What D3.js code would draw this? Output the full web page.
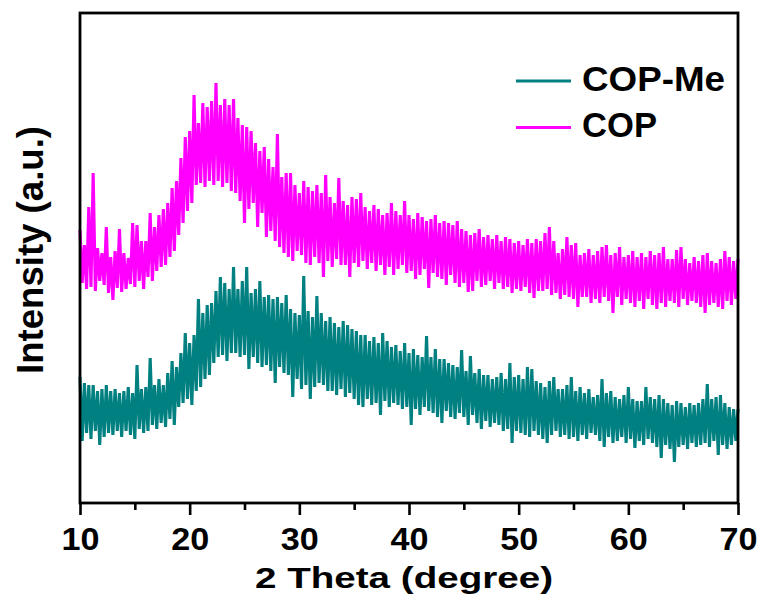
<!DOCTYPE html>
<html>
<head>
<meta charset="utf-8">
<script src="https://cdn.jsdelivr.net/npm/d3@7"></script>
<style>
  body { margin: 0; background: #fff; }
  svg { display: block; }
  text { font-family: Arial, "Liberation Sans", sans-serif; font-weight: bold; fill: #000; }
</style>
</head>
<body>
<svg id="chart" width="761" height="603"></svg>
<script>
// XRD scan grid: 2θ from 10° to 70° in 0.2° steps
const angleStart = 10;
const angleStep = 0.2;

// COP-Me intensity (a.u.), one row per degree
const copMe = [
  126, 62, 120, 70, 118,
  64, 118, 72, 112, 58,
  114, 66, 118, 70, 112,
  68, 114, 72, 110, 66,
  112, 72, 116, 68, 110,
  64, 138, 74, 114, 70,
  116, 72, 145, 78, 118,
  74, 124, 80, 118, 76,
  130, 84, 142, 78, 136,
  96, 150, 100, 170, 104,
  160, 98, 168, 112, 204,
  116, 190, 124, 198, 128,
  200, 140, 212, 146, 226,
  148, 220, 142, 214, 150,
  236, 150, 214, 146, 222,
  148, 236, 134, 210, 146,
  214, 140, 222, 136, 206,
  138, 208, 132, 204, 120,
  206, 136, 200, 130, 208,
  128, 194, 106, 190, 124,
  188, 114, 227, 118, 192,
  104, 186, 116, 207, 120,
  190, 118, 182, 112, 186,
  112, 180, 108, 176, 114,
  182, 106, 178, 110, 174,
  104, 172, 98, 168, 96,
  168, 104, 162, 98, 166,
  100, 160, 88, 170, 102,
  162, 96, 156, 100, 158,
  98, 152, 94, 160, 96,
  150, 78, 154, 94, 148,
  88, 146, 96, 167, 92,
  146, 90, 154, 86, 144,
  80, 144, 92, 140, 86,
  138, 84, 136, 90, 153,
  86, 132, 78, 147, 88,
  130, 80, 134, 74, 128,
  82, 128, 76, 124, 80,
  126, 78, 130, 72, 124,
  74, 140, 60, 126, 72,
  128, 70, 124, 68, 136,
  66, 134, 72, 122, 68,
  120, 64, 116, 60, 122,
  68, 126, 72, 114, 66,
  114, 68, 118, 64, 126,
  66, 112, 62, 116, 68,
  110, 64, 114, 70, 106,
  68, 108, 62, 124, 56,
  110, 66, 112, 60, 106,
  62, 104, 66, 108, 60,
  116, 64, 104, 55, 102,
  62, 102, 58, 116, 64,
  106, 60, 104, 56, 108,
  45, 104, 58, 100, 54,
  98, 41, 102, 56, 100,
  58, 96, 54, 100, 60,
  98, 56, 100, 58, 104,
  60, 119, 56, 104, 62,
  106, 48, 108, 58, 100,
  54, 96, 58, 94, 62,
  94
];

// COP intensity (a.u.), one row per degree
const cop = [
  273, 220, 258, 214, 296,
  216, 330, 212, 255, 222,
  250, 218, 276, 210, 246,
  203, 252, 215, 274, 211,
  250, 214, 245, 219, 280,
  216, 278, 222, 262, 214,
  262, 226, 290, 222, 276,
  232, 288, 236, 294, 238,
  300, 246, 315, 252, 322,
  268, 345, 280, 366, 292,
  372, 300, 408, 318, 380,
  320, 400, 316, 396, 322,
  402, 318, 420, 322, 398,
  316, 404, 320, 398, 312,
  404, 310, 385, 302, 378,
  280, 376, 294, 372, 300,
  360, 276, 352, 290, 356,
  266, 344, 272, 336, 262,
  369, 256, 326, 250, 330,
  246, 330, 242, 318, 252,
  310, 248, 322, 240, 316,
  238, 312, 246, 318, 240,
  310, 226, 328, 242, 306,
  236, 300, 244, 325, 238,
  302, 238, 298, 226, 306,
  240, 304, 236, 310, 242,
  296, 234, 292, 240, 298,
  232, 294, 238, 288, 228,
  290, 236, 300, 228, 292,
  234, 288, 238, 302, 230,
  288, 232, 284, 224, 290,
  228, 286, 234, 282, 215,
  284, 230, 288, 226, 280,
  224, 282, 218, 280, 228,
  278, 220, 282, 216, 274,
  220, 272, 211, 268, 212,
  270, 222, 274, 216, 266,
  218, 268, 222, 264, 214,
  268, 220, 262, 214, 266,
  216, 264, 210, 260, 214,
  262, 212, 258, 216, 264,
  210, 260, 205, 264, 212,
  262, 212, 270, 214, 276,
  208, 262, 210, 250, 204,
  254, 208, 266, 206, 258,
  204, 260, 196, 248, 206,
  250, 206, 254, 200, 248,
  204, 252, 200, 256, 206,
  258, 202, 248, 190, 250,
  206, 256, 198, 246, 204,
  248, 200, 252, 196, 246,
  202, 250, 194, 246, 204,
  252, 198, 248, 194, 250,
  200, 256, 196, 244, 202,
  244, 200, 253, 196, 256,
  204, 244, 198, 240, 202,
  246, 200, 242, 196, 248,
  190, 250, 198, 242, 200,
  240, 196, 244, 194, 252,
  202, 246, 198, 242, 204,
  244
];

const seriesNames = ["COP-Me", "COP"];
const seriesColors = ["#008080", "#ff00ff"];
const xTickValues = [10, 20, 30, 40, 50, 60, 70];
const xMinorTickValues = [15, 25, 35, 45, 55, 65];
const xTitle = "2 Theta (degree)";
const yTitle = "Intensity (a.u.)";

const svg = d3.select("#chart");
const plot = { left: 80, right: 738, top: 13, bottom: 503 };

const x = d3.scaleLinear().domain([10, 70]).range([plot.left, plot.right]);
const y = d3.scaleLinear().domain([0, 490]).range([plot.bottom, plot.top]);

const line = d3.line()
  .x((d, i) => x(angleStart + i * angleStep))
  .y(d => y(d));

const series = [copMe, cop];

// patterns
svg.append("g").selectAll("path")
  .data(series)
  .join("path")
  .attr("d", d => line(d))
  .attr("fill", "none")
  .attr("stroke", (d, i) => seriesColors[i])
  .attr("stroke-width", 3.1)
  .attr("stroke-linejoin", "bevel");

// minor ticks
svg.append("g")
  .attr("transform", `translate(0,${plot.bottom})`)
  .call(d3.axisBottom(x).tickValues(xMinorTickValues).tickSize(7).tickFormat(""))
  .call(g => g.select(".domain").remove())
  .call(g => g.selectAll(".tick line").attr("stroke", "#000").attr("stroke-width", 2.6));

// major ticks and labels
svg.append("g")
  .attr("transform", `translate(0,${plot.bottom})`)
  .call(d3.axisBottom(x).tickValues(xTickValues).tickSize(12).tickFormat(d3.format("d")))
  .call(g => g.select(".domain").remove())
  .call(g => g.selectAll(".tick line").attr("stroke", "#000").attr("stroke-width", 2.6))
  .call(g => g.selectAll(".tick text")
    .attr("y", 47).attr("dy", 0)
    .attr("font-size", 31)
    .attr("textLength", 38).attr("lengthAdjust", "spacingAndGlyphs")
    .style("font-family", "Arial, 'Liberation Sans', sans-serif")
    .style("font-weight", "bold")
    .attr("fill", "#000"));

// frame
svg.append("rect")
  .attr("x", plot.left).attr("y", plot.top)
  .attr("width", plot.right - plot.left).attr("height", plot.bottom - plot.top)
  .attr("fill", "none").attr("stroke", "#000").attr("stroke-width", 2.8);

// axis titles
svg.append("text")
  .attr("x", 404).attr("y", 588)
  .attr("text-anchor", "middle")
  .attr("font-size", 30)
  .attr("textLength", 298).attr("lengthAdjust", "spacingAndGlyphs")
  .text(xTitle);

svg.append("text")
  .attr("transform", "translate(43,250) rotate(-90)")
  .attr("text-anchor", "middle")
  .attr("font-size", 36)
  .attr("textLength", 248).attr("lengthAdjust", "spacingAndGlyphs")
  .text(yTitle);

// legend
const legend = svg.append("g");
const legendRows = [81, 127.5];
const legendTextLen = [143, 75];
seriesNames.forEach((name, i) => {
  legend.append("line")
    .attr("x1", 516).attr("x2", 571)
    .attr("y1", legendRows[i]).attr("y2", legendRows[i])
    .attr("stroke", seriesColors[i]).attr("stroke-width", 3);
  legend.append("text")
    .attr("x", 582).attr("y", legendRows[i] + 9.5)
    .attr("font-size", 35)
    .attr("textLength", legendTextLen[i]).attr("lengthAdjust", "spacingAndGlyphs")
    .text(name);
});
</script>
</body>
</html>
